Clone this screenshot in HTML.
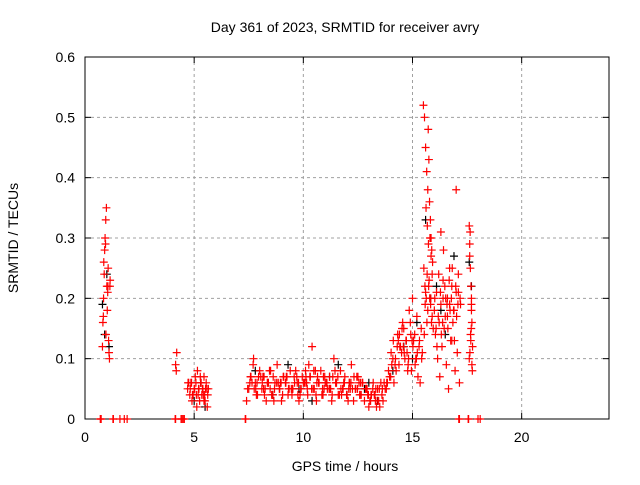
<!DOCTYPE html>
<html><head><meta charset="utf-8"><style>
body{margin:0;background:#fff}
svg text{font-family:"Liberation Sans",sans-serif;font-size:14px;fill:#000}
</style></head><body>
<svg id="c" width="640" height="480">
<rect width="640" height="480" fill="#fff"/>
<g id="grid"></g><g id="axes"></g><g id="marks"></g>
<text x="345" y="32" text-anchor="middle">Day 361 of 2023, SRMTID for receiver avry</text>
<text x="345" y="471" text-anchor="middle">GPS time / hours</text>
<text transform="translate(18,238) rotate(-90)" text-anchor="middle">SRMTID / TECUs</text>
</svg>
<script>
const xTicks=[0,5,10,15,20];
const yTicks=[0,0.1,0.2,0.3,0.4,0.5,0.6];
const yTickLabels=["0","0.1","0.2","0.3","0.4","0.5","0.6"];
const blackX=[0.8,0.9,1.0,1.1,5.0,5.5,7.8,8.6,9.3,10.4,11.2,12.0,12.8,13.4,14.1,14.6,15.2,15.6,15.8,16.1,16.5,16.9,17.6,17.7,5.3,9.8,11.6,13.0,15.0,16.3];
const blackY=[0.19,0.14,0.24,0.12,0.03,0.02,0.08,0.04,0.09,0.03,0.07,0.04,0.05,0.03,0.08,0.12,0.16,0.33,0.20,0.22,0.14,0.27,0.26,0.22,0.06,0.05,0.09,0.06,0.10,0.18];
const redX=[0.72,0.74,0.7,1.28,1.3,1.6,1.8,1.93,4.13,4.15,4.4,4.45,4.55,4.5,7.34,7.36,17.15,17.12,17.57,17.55,18.0,18.1,
0.8,0.82,0.85,0.88,0.9,0.92,0.95,0.98,1.0,1.02,1.05,1.08,1.1,1.12,1.15,0.86,0.94,1.06,0.84,0.96,1.04,1.14,
4.2,4.15,4.18,
4.7,4.8,4.85,4.9,5.0,5.05,5.1,5.15,5.2,5.25,5.3,5.35,5.4,5.45,5.5,5.55,5.6,5.65,4.75,4.95,5.12,5.28,5.42,5.58,
7.4,7.5,7.6,7.7,7.8,7.9,8.0,8.1,8.2,8.3,8.4,8.5,8.6,8.7,8.8,8.9,9.0,9.1,9.2,9.3,9.4,9.5,9.6,9.7,9.8,9.9,10.0,10.1,10.2,10.3,10.4,10.5,10.6,10.7,10.8,10.9,11.0,11.1,11.2,11.3,11.4,11.5,11.6,11.7,11.8,11.9,12.0,12.1,12.2,12.3,12.4,12.5,12.6,12.7,12.8,12.9,13.0,13.1,13.2,13.3,13.4,13.5,
7.65,7.85,8.05,8.25,8.45,8.65,8.85,9.05,9.25,9.45,9.65,9.85,10.05,10.25,10.45,10.65,10.85,11.05,11.25,11.45,11.65,11.85,12.05,12.25,12.45,12.65,12.85,13.05,13.25,13.45,
7.75,8.15,8.55,8.95,9.35,9.75,10.15,10.55,10.95,11.35,11.75,12.15,12.55,12.95,13.35,
7.45,7.55,7.72,7.82,7.95,8.12,8.22,8.35,8.48,8.62,8.78,8.92,9.08,9.18,9.32,9.48,9.58,9.72,9.88,9.95,10.08,10.18,10.32,10.48,10.58,10.72,10.88,10.98,11.08,11.18,11.32,11.48,11.58,11.72,11.88,11.98,12.08,12.18,12.32,12.48,12.58,12.72,12.88,12.98,13.08,13.18,13.28,13.38,13.48,13.55,
7.58,7.88,8.18,8.38,8.68,8.98,9.22,9.52,9.78,10.12,10.38,10.62,10.92,11.22,11.52,11.82,12.12,12.38,12.62,12.92,13.12,13.32,
4.72,4.82,4.92,5.02,5.08,5.18,5.22,5.32,5.38,5.48,5.52,5.62,4.88,5.45,
13.6,13.7,13.8,13.9,14.0,14.1,14.2,14.3,14.4,14.5,14.6,14.7,14.8,14.9,15.0,15.1,15.2,15.3,15.4,
13.65,13.85,14.05,14.25,14.45,14.65,14.85,15.05,15.25,15.45,14.15,14.35,14.55,14.75,14.95,15.15,15.35,
13.75,13.95,14.02,14.12,14.22,14.32,14.42,14.52,14.62,14.72,14.82,14.92,15.02,15.12,15.22,15.32,15.42,13.62,13.82,14.38,14.58,14.78,14.98,15.18,
15.5,15.55,15.6,15.65,15.7,15.72,15.75,15.78,15.8,15.82,15.85,15.88,15.9,15.62,15.68,15.74,15.84,15.92,15.58,15.66,
15.52,15.57,15.63,15.7,15.76,15.83,15.9,15.95,15.54,15.6,15.67,15.73,15.79,15.87,
16.0,16.1,16.2,16.3,16.4,16.5,16.6,16.7,16.8,16.9,17.0,17.1,17.2,16.05,16.15,16.25,16.35,16.45,16.55,16.65,16.75,16.85,16.95,17.05,17.15,16.22,16.42,16.62,16.82,17.02,16.12,16.52,16.92,
16.02,16.08,16.18,16.28,16.38,16.48,16.58,16.68,16.78,16.88,16.98,17.08,17.18,16.32,16.72,16.6,16.4,16.8,17.1,16.7,
17.6,17.62,17.65,17.68,17.7,17.72,17.75,17.6,17.64,17.7,17.74,17.66,17.62,17.7,17.63,17.69,17.72,17.67,
17.0,15.85,16.3];
const redY=[0,0,0,0,0,0,0,0,0,0,0,0,0,0,0,0,0,0,0,0,0,0,
0.12,0.16,0.2,0.24,0.28,0.3,0.33,0.35,0.22,0.18,0.22,0.13,0.11,0.1,0.23,0.26,0.29,0.25,0.17,0.14,0.21,0.22,
0.11,0.09,0.08,
0.05,0.04,0.06,0.03,0.05,0.07,0.04,0.08,0.05,0.03,0.06,0.04,0.05,0.07,0.03,0.06,0.02,0.05,0.06,0.04,0.02,0.07,0.04,0.05,
0.03,0.05,0.07,0.09,0.06,0.04,0.08,0.05,0.07,0.03,0.06,0.08,0.04,0.06,0.09,0.05,0.03,0.07,0.06,0.04,0.08,0.05,0.06,0.07,0.03,0.05,0.06,0.08,0.04,0.07,0.12,0.05,0.03,0.06,0.08,0.04,0.06,0.05,0.07,0.03,0.1,0.06,0.04,0.08,0.05,0.07,0.04,0.06,0.09,0.03,0.05,0.07,0.04,0.06,0.03,0.05,0.02,0.04,0.06,0.03,0.05,0.02,
0.06,0.04,0.07,0.05,0.08,0.03,0.06,0.04,0.07,0.05,0.08,0.04,0.06,0.09,0.05,0.07,0.04,0.06,0.05,0.08,0.04,0.06,0.03,0.05,0.07,0.04,0.05,0.03,0.04,0.03,
0.05,0.07,0.04,0.06,0.05,0.04,0.06,0.08,0.05,0.07,0.04,0.05,0.06,0.04,0.02,
0.05,0.06,0.1,0.05,0.07,0.06,0.04,0.06,0.05,0.07,0.06,0.05,0.07,0.06,0.05,0.04,0.07,0.06,0.05,0.07,0.06,0.05,0.07,0.08,0.04,0.06,0.05,0.07,0.06,0.05,0.04,0.06,0.07,0.05,0.06,0.04,0.05,0.06,0.07,0.05,0.04,0.06,0.05,0.04,0.03,0.05,0.04,0.03,0.05,0.06,
0.07,0.06,0.05,0.06,0.05,0.06,0.07,0.05,0.06,0.07,0.05,0.06,0.07,0.05,0.06,0.05,0.06,0.05,0.06,0.05,0.04,0.05,
0.06,0.05,0.04,0.05,0.06,0.04,0.05,0.06,0.05,0.04,0.05,0.04,0.06,0.03,
0.04,0.06,0.05,0.08,0.07,0.1,0.09,0.12,0.14,0.11,0.15,0.13,0.09,0.16,0.2,0.14,0.17,0.12,0.15,
0.03,0.06,0.09,0.08,0.12,0.1,0.18,0.13,0.07,0.11,0.06,0.13,0.16,0.11,0.08,0.1,0.06,
0.05,0.07,0.11,0.13,0.1,0.14,0.12,0.15,0.11,0.13,0.1,0.14,0.12,0.09,0.11,0.13,0.1,0.05,0.06,0.09,0.12,0.08,0.13,0.1,
0.52,0.5,0.45,0.41,0.38,0.48,0.43,0.36,0.3,0.33,0.27,0.28,0.24,0.35,0.32,0.22,0.2,0.26,0.19,0.16,
0.25,0.22,0.2,0.18,0.23,0.19,0.17,0.15,0.14,0.21,0.24,0.29,0.2,0.16,
0.18,0.21,0.24,0.19,0.23,0.17,0.2,0.25,0.22,0.18,0.21,0.24,0.19,0.14,0.1,0.07,0.12,0.15,0.09,0.05,0.13,0.16,0.08,0.11,0.06,0.16,0.28,0.15,0.25,0.17,0.12,0.2,0.13,
0.2,0.15,0.17,0.21,0.16,0.22,0.19,0.23,0.2,0.18,0.22,0.19,0.2,0.14,0.18,0.17,0.2,0.13,0.21,0.19,
0.32,0.29,0.25,0.22,0.19,0.16,0.12,0.1,0.31,0.2,0.08,0.14,0.27,0.18,0.11,0.15,0.09,0.13,
0.38,0.3,0.31];
const X0=85,X1=609,Y0=419,Y1=57;
const xs=v=>X0+(v/24)*(X1-X0);
const ys=v=>Y0-(v/0.6)*(Y0-Y1);
const NS="http://www.w3.org/2000/svg";
function mk(t,a,p){const e=document.createElementNS(NS,t);for(const k in a)e.setAttribute(k,a[k]);p.appendChild(e);return e;}
const grid=document.getElementById('grid'),axes=document.getElementById('axes'),marks=document.getElementById('marks');
yTicks.forEach((v,i)=>{const y=ys(v);
 if(i>0&&i<yTicks.length-1){const g=mk('line',{x1:X0,x2:X1,y1:y,y2:y,stroke:'#a0a0a0','stroke-dasharray':'3,3'},grid);
 
 }
 mk('line',{x1:X0,x2:X0+6,y1:y,y2:y,stroke:'#000'},axes);mk('line',{x1:X1,x2:X1-6,y1:y,y2:y,stroke:'#000'},axes);
 const t=mk('text',{x:X0-10,y:y+5,'text-anchor':'end'},axes);t.textContent=yTickLabels[i];
 
 });
xTicks.forEach(v=>{const x=xs(v);
 if(v>0){const g=mk('line',{x1:x,x2:x,y1:Y0,y2:Y1,stroke:'#a0a0a0','stroke-dasharray':'3,3'},grid);
 
 }
 mk('line',{x1:x,x2:x,y1:Y0,y2:Y0-6,stroke:'#000'},axes);mk('line',{x1:x,x2:x,y1:Y1,y2:Y1+6,stroke:'#000'},axes);
 const t=mk('text',{x:x,y:Y0+23,'text-anchor':'middle'},axes);t.textContent=v;
 
 });
const fr=mk('rect',{x:X0,y:Y1,width:X1-X0,height:Y0-Y1,fill:'none',stroke:'#000'},axes);


function plus(x,y,c,name){const p=mk('path',{d:`M${x-4},${y}h8M${x},${y-4}v8`,stroke:c,'stroke-width':1.2,fill:'none'},marks);
 
 }
blackX.forEach((v,i)=>plus(xs(v),ys(blackY[i]),'#000','black-point'));
redX.forEach((v,i)=>plus(xs(v),ys(redY[i]),'#f00','red-point'));
</script>
</body></html>
